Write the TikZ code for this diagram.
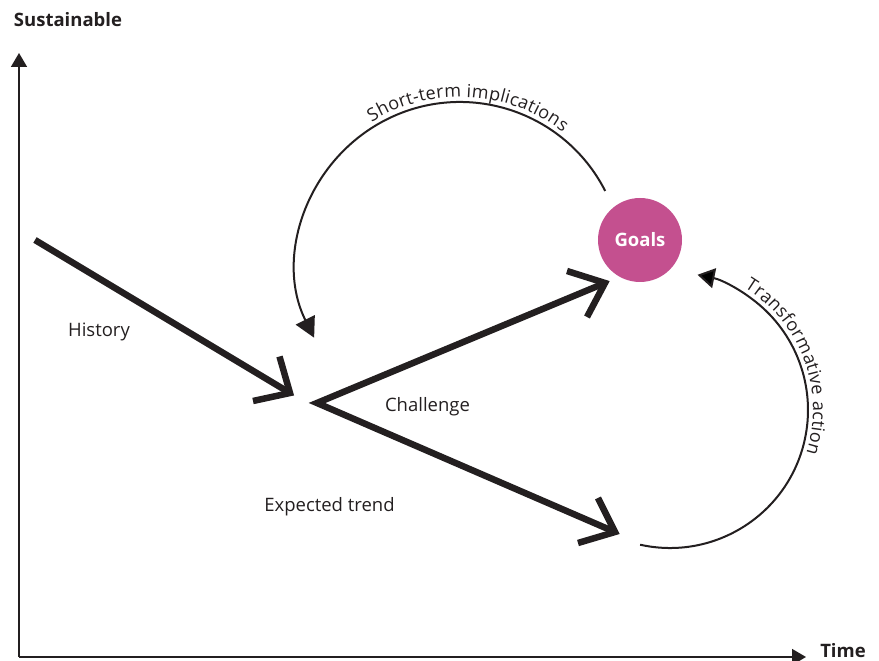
\documentclass[tikz,border=0pt]{standalone}
\usepackage{fontspec}
\setmainfont{Open Sans}
\usetikzlibrary{arrows.meta,decorations.text}
\definecolor{ink}{HTML}{231F20}
\definecolor{goalpink}{HTML}{C4508F}
\begin{document}
\begin{tikzpicture}[x=1pt,y=1pt,
  axis/.style={draw=ink, line width=1.6pt, -{Triangle[length=14pt,width=16pt]}},
  trend/.style={draw=ink, line width=6.5pt, line join=miter, line cap=butt},
  loopline/.style={draw=ink, line width=2pt, -{Triangle[length=20pt,width=21pt]}},
  lbl/.style={text=ink, font=\fontsize{18.5}{22}\selectfont, inner sep=0pt, anchor=base},
  axlbl/.style={lbl, font=\bfseries\fontsize{18.5}{22}\selectfont},
  arctext/.style={decorate, decoration={text along path, text align=center, raise=5pt, text color=ink}},
]
\useasboundingbox (0,0) rectangle (879,661);
% axes
\coordinate (O) at (19,4);
\coordinate (ytip) at (19,608);
\coordinate (xtip) at (806,4);
\draw[axis] (O) -- (ytip);
\draw[axis] (O) -- (xtip);
\node[axlbl] (ylab) at (68,634) {Sustainable};
\node[axlbl] (xlab) at (843,3) {Time};
% history arrow
\coordinate (hs) at (35,421);
\coordinate (ht) at (290,268);
\coordinate (ha1) at (253,260);
\coordinate (ha2) at (279.5,304.5);
\draw[trend] (hs) -- (ht);
\draw[trend] (ha1) -- (ht) -- (ha2);
% challenge
\coordinate (cv) at (317,258);
\coordinate (ut) at (605,378);
\coordinate (ua1) at (567,390);
\coordinate (ua2) at (587,344);
\coordinate (lt) at (615,129);
\coordinate (la1) at (598,163);
\coordinate (la2) at (578,118);
\draw[trend] (ut) -- (cv) -- (lt);
\draw[trend] (ua1) -- (ut) -- (ua2);
\draw[trend] (la1) -- (lt) -- (la2);
% goals
\node[circle, fill=goalpink, minimum size=84pt, inner sep=0pt, text=white,
      font=\bfseries\fontsize{18.5}{22}\selectfont] (goals) at (640,421) {Goals};
% labels
\node[lbl] (hist) at (99,324) {History};
\node[lbl] (chal) at (427.5,249) {Challenge};
\node[lbl] (exp) at (329.5,149) {Expected trend};
% short-term loop
\coordinate (tlc) at (460,396);
\draw[loopline] ([shift={(27:163)}]tlc) arc[start angle=27, end angle=206.5, radius=163];
\path[arctext, decoration={text={|\fontsize{18}{21}\selectfont|Short-term implications}}]
  ([shift={(132:163)}]tlc) arc[start angle=132, end angle=42, radius=163];
% transformative loop
\coordinate (rlc) at (670,251);
\draw[loopline, -{Triangle[length=17pt,width=20pt]}] ([shift={(-102.5:138)}]rlc) arc[start angle=-102.5, end angle=78.5, radius=138];
\path[arctext, decoration={text={|\fontsize{18}{21}\selectfont|Transformative action}}]
  ([shift={(65:138)}]rlc) arc[start angle=65, end angle=-24, radius=138];
\end{tikzpicture}
\end{document}
